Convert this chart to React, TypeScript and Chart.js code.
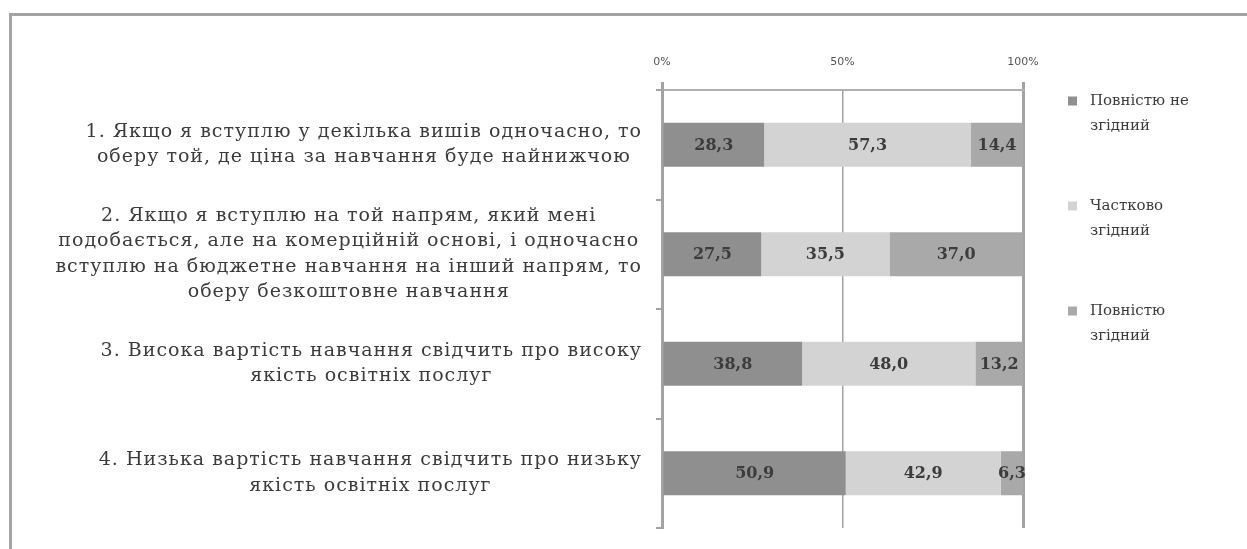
import React, { useEffect, useRef } from "react";
import { Chart, registerables } from "chart.js";

Chart.register(...registerables);

const categoryLines: string[][] = [
  ["1. Якщо я вступлю у декілька вишів одночасно, то", "оберу той, де ціна за навчання буде найнижчою"],
  [
    "2. Якщо я вступлю на той напрям, який мені",
    "подобається, але на комерційній основі, і одночасно",
    "вступлю на бюджетне навчання на інший напрям, то",
    "оберу безкоштовне навчання",
  ],
  ["3. Висока вартість навчання свідчить про високу", "якість освітніх послуг"],
  ["4. Низька вартість навчання свідчить про низьку", "якість освітніх послуг"],
];

const seriesNames = ["Повністю не згідний", "Частково згідний", "Повністю згідний"];
const legendLines: string[][] = [
  ["Повністю не", "згідний"],
  ["Частково", "згідний"],
  ["Повністю", "згідний"],
];

const fullyDisagree = [28.3, 27.5, 38.8, 50.9];
const partlyAgree = [57.3, 35.5, 48.0, 42.9];
const fullyAgree = [14.4, 37.0, 13.2, 6.3];

const xTickValues = [0, 50, 100];

const seriesColors = ["#8f8f8f", "#d3d3d3", "#a9a9a9"];

const TEXT_FONT = '"DejaVu Serif", "Liberation Serif", serif';
const TEXT_COLOR = "#3c3c3c";

const valueLabelsPlugin = {
  id: "valueLabels",
  afterDatasetsDraw(chart: any) {
    const ctx = chart.ctx;
    ctx.save();
    ctx.font = `bold 16px ${TEXT_FONT}`;
    ctx.fillStyle = TEXT_COLOR;
    ctx.textAlign = "center";
    ctx.textBaseline = "middle";
    chart.data.datasets.forEach((ds: any, di: number) => {
      const meta = chart.getDatasetMeta(di);
      meta.data.forEach((el: any, i: number) => {
        const v = ds.data[i];
        const cx = (el.x + el.base) / 2;
        ctx.fillText(v.toFixed(1).replace(".", ","), cx, el.y + 1);
      });
    });
    ctx.restore();
  },
};

const categoryLabelsPlugin = {
  id: "categoryLabels",
  afterDraw(chart: any) {
    const ctx = chart.ctx;
    const yScale = chart.scales.y;
    const area = chart.chartArea;
    ctx.save();
    ctx.font = `19px ${TEXT_FONT}`;
    try {
      (ctx as any).letterSpacing = "1px";
    } catch (e) {}
    ctx.fillStyle = TEXT_COLOR;
    ctx.textAlign = "center";
    ctx.textBaseline = "middle";
    const lineH = 25.5;
    categoryLines.forEach((lines, i) => {
      const yc = yScale.getPixelForValue(i);
      const maxW = Math.max(...lines.map((l) => ctx.measureText(l).width));
      const blockRight = area.left - 20;
      const cx = blockRight - maxW / 2;
      lines.forEach((line, j) => {
        const y = yc + (j - (lines.length - 1) / 2) * lineH;
        ctx.fillText(line, cx, y);
      });
    });
    ctx.restore();
  },
};

const legendPlugin = {
  id: "sideLegend",
  afterDraw(chart: any) {
    const ctx = chart.ctx;
    const area = chart.chartArea;
    ctx.save();
    ctx.font = `15px ${TEXT_FONT}`;
    ctx.textAlign = "left";
    ctx.textBaseline = "middle";
    legendLines.forEach((lines, i) => {
      const y0 = area.top + 11 + i * 105;
      ctx.fillStyle = seriesColors[i];
      ctx.fillRect(area.right + 45, y0 - 4.5, 9, 9);
      ctx.fillStyle = TEXT_COLOR;
      lines.forEach((line, j) => {
        ctx.fillText(line, area.right + 67, y0 + j * 25);
      });
    });
    ctx.restore();
  },
};

export default function App() {
  const canvasRef = useRef<HTMLCanvasElement | null>(null);

  useEffect(() => {
    if (!canvasRef.current) return;
    const chart = new Chart(canvasRef.current, {
      type: "bar",
      data: {
        labels: categoryLines.map((l) => l.join(" ")),
        datasets: [
          { label: seriesNames[0], data: fullyDisagree, backgroundColor: seriesColors[0] },
          { label: seriesNames[1], data: partlyAgree, backgroundColor: seriesColors[1] },
          { label: seriesNames[2], data: fullyAgree, backgroundColor: seriesColors[2] },
        ],
      },
      options: {
        indexAxis: "y",
        responsive: false,
        animation: false,
        devicePixelRatio: 1,
        layout: { padding: { left: 654, right: 224, top: 40, bottom: 21 } },
        datasets: { bar: { barPercentage: 0.4, categoryPercentage: 1, borderWidth: 0 } },
        plugins: {
          legend: { display: false },
          tooltip: { enabled: false },
        },
        scales: {
          x: {
            position: "top",
            stacked: true,
            min: 0,
            max: 100,
            afterFit: (s: any) => {
              s.height = 50;
            },
            afterBuildTicks: (s: any) => {
              s.ticks = xTickValues.map((v) => ({ value: v }));
            },
            ticks: {
              callback: (v: any) => `${v}%`,
              font: { size: 11, family: '"DejaVu Sans", sans-serif' },
              color: "#555",
              padding: 13,
              maxRotation: 0,
            },
            grid: {
              color: "#a3a3a3",
              lineWidth: (c: any) => (c.tick && c.tick.value === 50 ? 1.5 : 3),
              tickColor: (c: any) => (c.tick && c.tick.value === 50 ? "rgba(0,0,0,0)" : "#a3a3a3"),
              tickLength: 8,
              drawTicks: true,
            },
            border: { display: true, color: "#b0b0b0", width: 2 },
          },
          y: {
            stacked: true,
            offset: true,
            afterFit: (s: any) => {
              s.width = 8;
            },
            ticks: { display: false },
            grid: {
              offset: true,
              drawOnChartArea: false,
              drawTicks: true,
              tickLength: 6,
              color: "#a3a3a3",
              lineWidth: 2,
            },
            border: { display: true, color: "#a3a3a3", width: 3 },
          },
        },
      },
      plugins: [valueLabelsPlugin, categoryLabelsPlugin, legendPlugin],
    } as any);
    return () => chart.destroy();
  }, []);

  return (
    <div style={{ position: "fixed", left: 0, top: 0, width: 1247, height: 549, background: "#fff" }}>
      <div
        style={{
          position: "absolute",
          left: 9,
          top: 13,
          right: 0,
          bottom: 0,
          borderTop: "3px solid #a3a3a3",
          borderLeft: "3px solid #a3a3a3",
        }}
      />
      <canvas ref={canvasRef} width={1247} height={549} style={{ position: "absolute", left: 0, top: 0 }} />
    </div>
  );
}
